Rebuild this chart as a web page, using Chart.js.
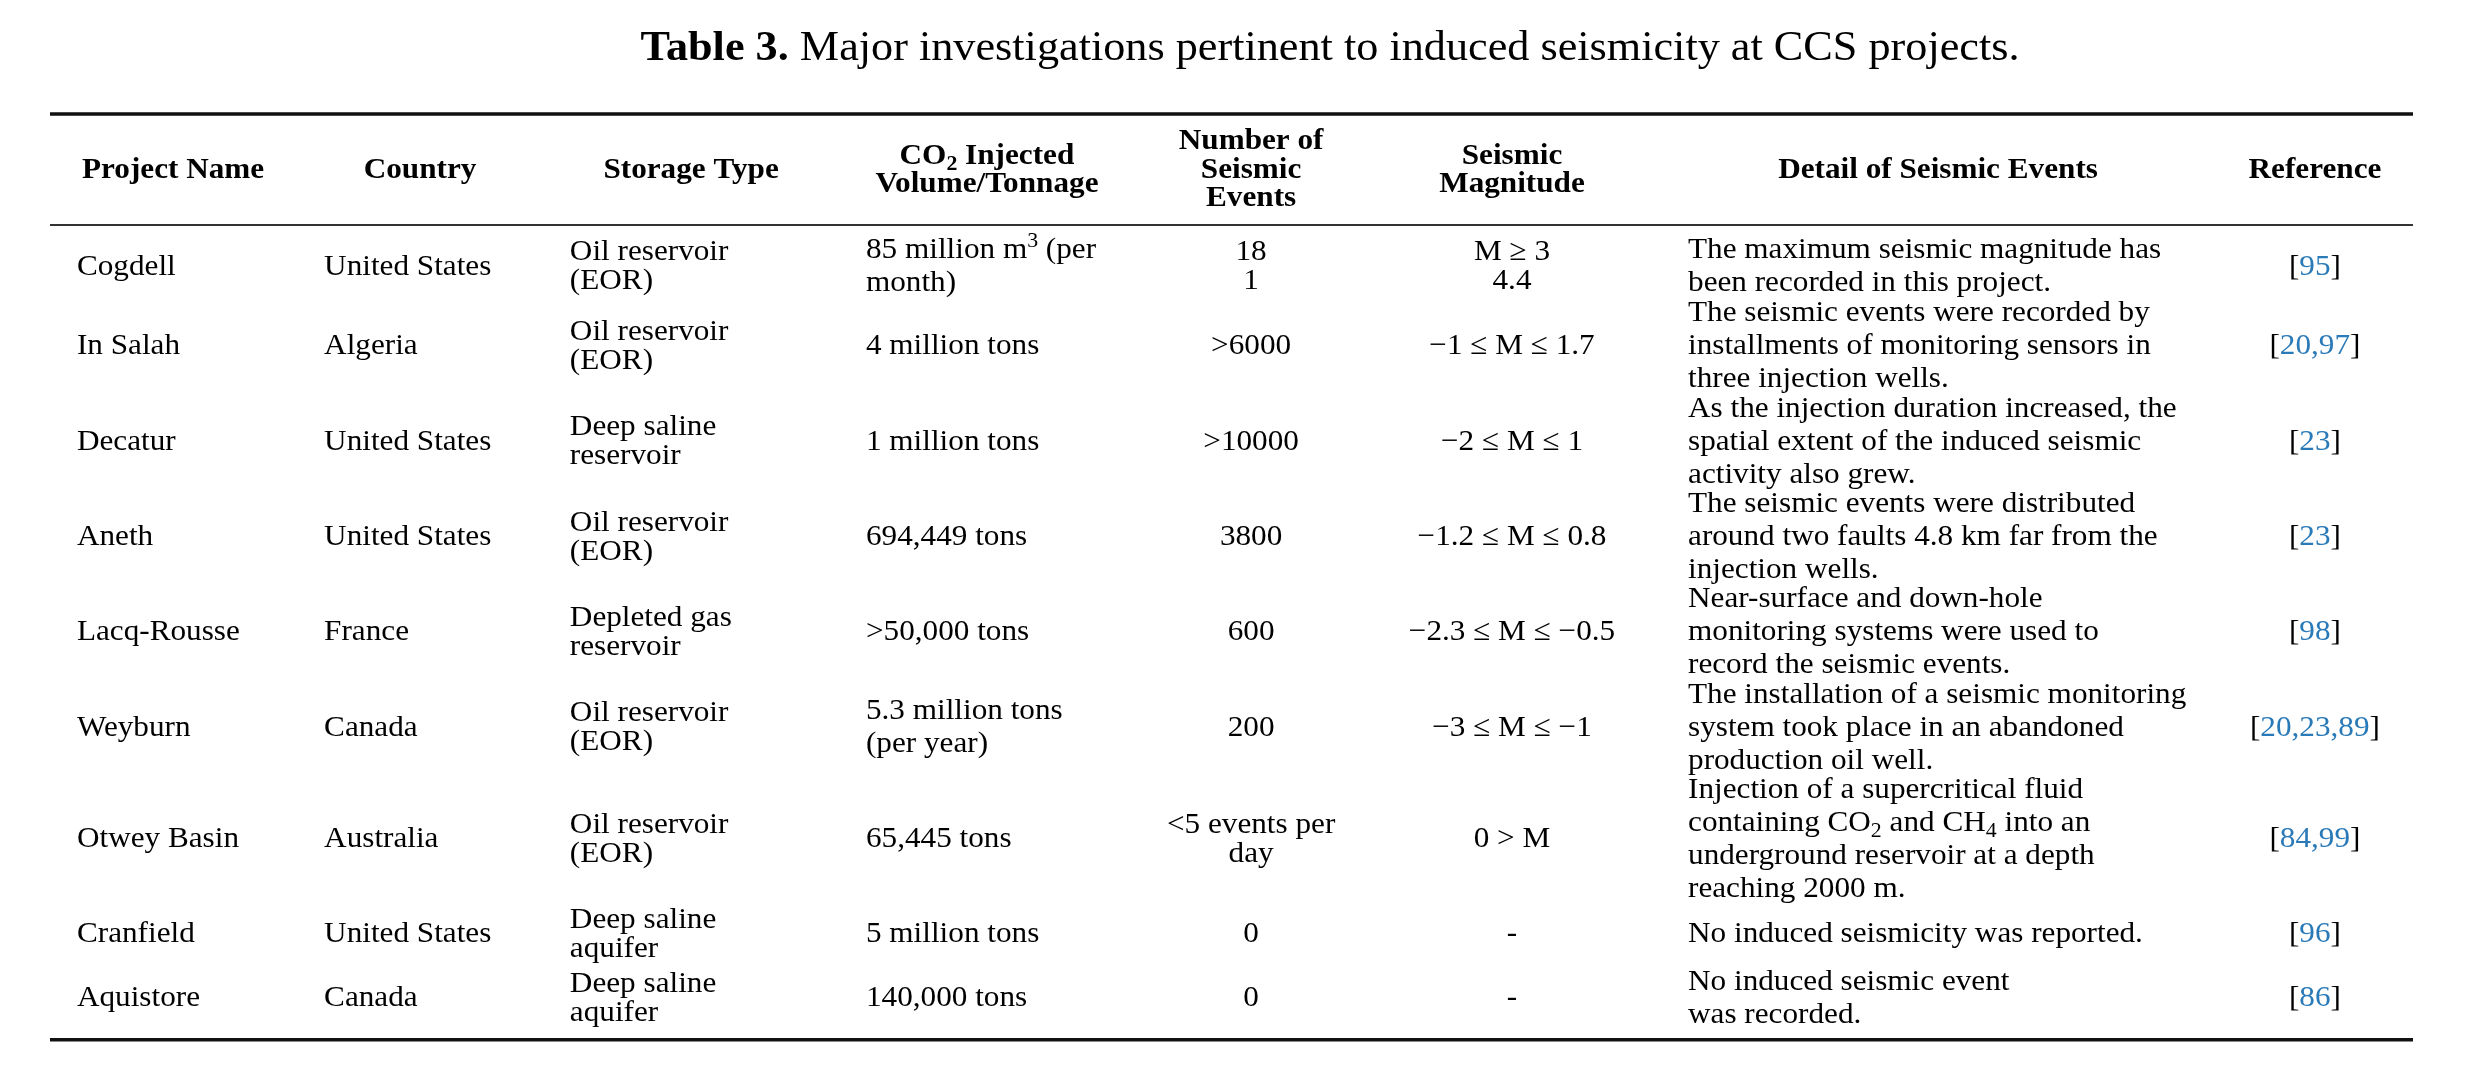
<!DOCTYPE html>
<html>
<head>
<meta charset="utf-8">
<script src="https://cdn.jsdelivr.net/npm/chart.js@4.4.1/dist/chart.umd.min.js"></script>
<style>
  html, body { margin: 0; padding: 0; background: #fff; }
  #wrap { width: 2476px; height: 1068px; }
</style>
</head>
<body>
<div id="wrap"><canvas id="table3" width="2476" height="1068"></canvas></div>
<script>
// table content, one array per column
const titleBold = 'Table 3.';
const titleRest = ' Major investigations pertinent to induced seismicity at CCS projects.';

const headers = [
  ['Project Name'],
  ['Country'],
  ['Storage Type'],
  ['CO_{2} Injected', 'Volume/Tonnage'],
  ['Number of', 'Seismic', 'Events'],
  ['Seismic', 'Magnitude'],
  ['Detail of Seismic Events'],
  ['Reference']
];

const projects = ['Cogdell', 'In Salah', 'Decatur', 'Aneth', 'Lacq-Rousse', 'Weyburn', 'Otwey Basin', 'Cranfield', 'Aquistore'];
const countries = ['United States', 'Algeria', 'United States', 'United States', 'France', 'Canada', 'Australia', 'United States', 'Canada'];
const storageTypes = [
  ['Oil reservoir', '(EOR)'],
  ['Oil reservoir', '(EOR)'],
  ['Deep saline', 'reservoir'],
  ['Oil reservoir', '(EOR)'],
  ['Depleted gas', 'reservoir'],
  ['Oil reservoir', '(EOR)'],
  ['Oil reservoir', '(EOR)'],
  ['Deep saline', 'aquifer'],
  ['Deep saline', 'aquifer']
];
const volumes = [
  ['85 million m^{3} (per', 'month)'],
  ['4 million tons'],
  ['1 million tons'],
  ['694,449 tons'],
  ['>50,000 tons'],
  ['5.3 million tons', '(per year)'],
  ['65,445 tons'],
  ['5 million tons'],
  ['140,000 tons']
];
const eventCounts = [['18', '1'], ['>6000'], ['>10000'], ['3800'], ['600'], ['200'], ['<5 events per', 'day'], ['0'], ['0']];
const magnitudes = [
  ['M \u2265 3', '4.4'],
  ['\u22121 \u2264 M \u2264 1.7'],
  ['\u22122 \u2264 M \u2264 1'],
  ['\u22121.2 \u2264 M \u2264 0.8'],
  ['\u22122.3 \u2264 M \u2264 \u22120.5'],
  ['\u22123 \u2264 M \u2264 \u22121'],
  ['0 > M'],
  ['-'],
  ['-']
];
const details = [
  ['The maximum seismic magnitude has', 'been recorded in this project.'],
  ['The seismic events were recorded by', 'installments of monitoring sensors in', 'three injection wells.'],
  ['As the injection duration increased, the', 'spatial extent of the induced seismic', 'activity also grew.'],
  ['The seismic events were distributed', 'around two faults 4.8 km far from the', 'injection wells.'],
  ['Near-surface and down-hole', 'monitoring systems were used to', 'record the seismic events.'],
  ['The installation of a seismic monitoring', 'system took place in an abandoned', 'production oil well.'],
  ['Injection of a supercritical fluid', 'containing CO_{2} and CH_{4} into an', 'underground reservoir at a depth', 'reaching 2000 m.'],
  ['No induced seismicity was reported.'],
  ['No induced seismic event', 'was recorded.']
];
const references = [[95], [20, 97], [23], [23], [98], [20, 23, 89], [84, 99], [96], [86]];

// layout (x in % of table width, y in text-line units)
const headerX = [5.21, 15.66, 27.13, 39.65, 50.83, 61.87, 79.9, 95.85];
const bodyX = [1.14, 11.6, 22.0, 34.53, 50.83, 61.87, 69.32, 95.85];
const bodyAlign = ['left', 'left', 'left', 'left', 'center', 'center', 'left', 'center'];
const lineGap = [29, 29, 29, 33, 29, 29, 33, 29];
const yRange = { min: -7.33, max: 26.26 };
const ruleY = { top: -3.745, head: -0.255, bottom: 25.375 };
const headerRowY = -2.05;
const titleY = -5.88;

const FONT = '"Liberation Serif", "Times New Roman", serif';
const linkColor = '#2a7ab8';

// cells of row i as arrays of rich-text lines
const rowCells = (i) => [
  [projects[i]], [countries[i]], storageTypes[i], volumes[i],
  eventCounts[i], magnitudes[i], details[i], null
];

let lineCount = projects.map((p, i) => Math.max(...rowCells(i).filter(c => c).map(c => c.length)));
let rowCenters = [];
let acc = 0;
lineCount.forEach(n => { rowCenters.push(acc + n / 2); acc += n; });

var parseRich = function (str, color) {
  let out = [];
  let re = /([_^])\{([^}]*)\}/g;
  let last = 0, m;
  while ((m = re.exec(str))) {
    if (m.index > last) out.push({ t: str.slice(last, m.index), k: '', c: color });
    out.push({ t: m[2], k: m[1], c: color });
    last = re.lastIndex;
  }
  if (last < str.length) out.push({ t: str.slice(last), k: '', c: color });
  return out;
};

var drawSegs = function (ctx, segs, x, baseline, align, size, weight, sx) {
  let fontFor = (s) => weight + ' ' + (s.k ? Math.round(size * 0.7) : size) + 'px ' + FONT;
  let w = 0;
  segs.forEach(s => { ctx.font = fontFor(s); s.w = ctx.measureText(s.t).width; w += s.w; });
  let start = align === 'center' ? x - w * sx / 2 : x;
  ctx.save();
  ctx.translate(start, baseline);
  ctx.scale(sx, 1);
  let cx = 0;
  segs.forEach(s => {
    ctx.font = fontFor(s);
    ctx.fillStyle = s.c || '#000';
    let dy = s.k === '_' ? size * 0.22 : (s.k === '^' ? -size * 0.36 : 0);
    ctx.textAlign = 'left';
    ctx.textBaseline = 'alphabetic';
    ctx.fillText(s.t, cx, dy);
    cx += s.w;
  });
  ctx.restore();
};

var refSegs = function (nums) {
  return [{ t: '[', k: '', c: '#000' }, { t: nums.join(','), k: '', c: linkColor }, { t: ']', k: '', c: '#000' }];
};

const tablePlugin = {
  id: 'tablePlugin',
  afterDraw(chart) {
    let ctx = chart.ctx;
    let xs = chart.scales.x;
    let ys = chart.scales.y;
    let area = chart.chartArea;
    let sx = 1.04;
    let size = 30;

    // title
    let tsx = 1.053;
    ctx.font = 'bold 42px ' + FONT;
    let wb = ctx.measureText(titleBold).width;
    ctx.font = '42px ' + FONT;
    let wr = ctx.measureText(titleRest).width;
    let tw = (wb + wr) * tsx;
    let tx = 1330 - tw / 2;
    let ty = ys.getPixelForValue(titleY) + 14;
    drawSegs(ctx, [{ t: titleBold, k: '' }], tx, ty, 'left', 42, 'bold', tsx);
    drawSegs(ctx, [{ t: titleRest, k: '' }], tx + wb * tsx, ty, 'left', 42, 'normal', tsx);

    // rules
    let rule = (v, width, color) => {
      let y = ys.getPixelForValue(v);
      ctx.save();
      ctx.strokeStyle = color;
      ctx.lineWidth = width;
      ctx.beginPath();
      ctx.moveTo(area.left, y);
      ctx.lineTo(area.right, y);
      ctx.stroke();
      ctx.restore();
    };
    rule(ruleY.top, 3.5, '#111');
    rule(ruleY.head, 2, '#333');
    rule(ruleY.bottom, 3.5, '#111');

    // header row
    let hc = ys.getPixelForValue(headerRowY);
    headers.forEach((lines, j) => {
      let x = xs.getPixelForValue(headerX[j]);
      lines.forEach((ln, k) => {
        let b = hc + size * 0.33 + (k - (lines.length - 1) / 2) * 28.5;
        drawSegs(ctx, parseRich(ln), x, b, 'center', size, 'bold', sx);
      });
    });

    // body rows
    rowCenters.forEach((v, i) => {
      let c = ys.getPixelForValue(v);
      let cells = rowCells(i);
      cells.forEach((lines, j) => {
        let x = xs.getPixelForValue(bodyX[j]);
        if (j === 7) {
          drawSegs(ctx, refSegs(references[i]), x, c + size * 0.33, 'center', size, 'normal', sx);
          return;
        }
        lines.forEach((ln, k) => {
          let b = c + size * 0.33 + (k - (lines.length - 1) / 2) * lineGap[j];
          drawSegs(ctx, parseRich(ln), x, b, bodyAlign[j], size, 'normal', sx);
        });
      });
    });
  }
};

let config = {
  type: 'scatter',
  data: {
    datasets: [{
      label: 'rows',
      data: rowCenters.map(v => ({ x: 0, y: v })),
      pointRadius: 0,
      showLine: false
    }]
  },
  options: {
    responsive: false,
    animation: false,
    devicePixelRatio: 1,
    layout: { padding: { left: 50, right: 63, top: 0, bottom: 0 } },
    plugins: { legend: { display: false }, tooltip: { enabled: false }, title: { display: false } },
    scales: {
      x: { type: 'linear', min: 0, max: 100, display: false },
      y: { type: 'linear', min: yRange.min, max: yRange.max, reverse: true, display: false }
    }
  },
  plugins: [tablePlugin]
};

let ctx = document.getElementById('table3').getContext('2d');
let chart = new Chart(ctx, config);
</script>
</body>
</html>
